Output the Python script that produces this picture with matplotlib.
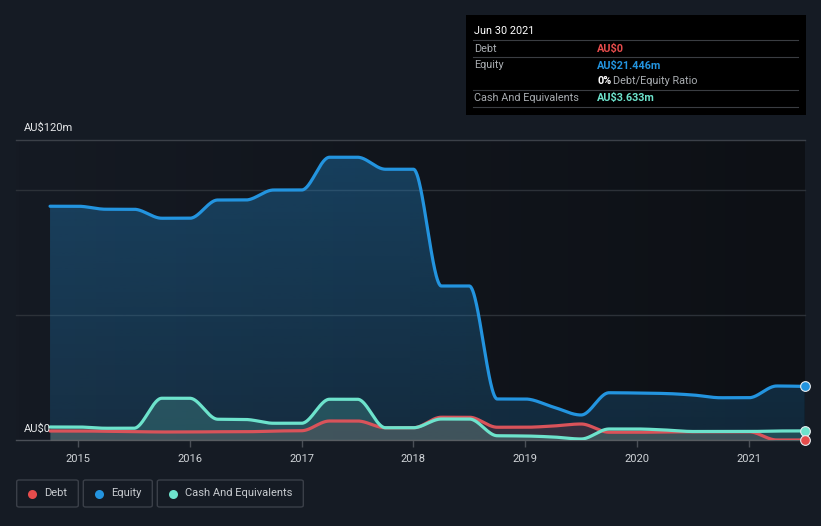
import numpy as np
import matplotlib
matplotlib.use("Agg")
import matplotlib.pyplot as plt
from matplotlib.patches import FancyBboxPatch, Rectangle
from matplotlib.lines import Line2D

plt.rcParams['font.family'] = ['Roboto', 'DejaVu Sans']

# ---- data (AU$ millions, quarterly) ----
dates = [2014.75, 2015.0, 2015.25, 2015.5, 2015.75, 2016.0, 2016.25, 2016.5,
         2016.75, 2017.0, 2017.25, 2017.5, 2017.75, 2018.0, 2018.25, 2018.5,
         2018.75, 2019.0, 2019.25, 2019.5, 2019.75, 2020.0, 2020.25, 2020.5,
         2020.75, 2021.0, 2021.25, 2021.5]
equity = [93.5, 93.5, 92.3, 92.3, 88.7, 88.7, 96.0, 96.0,
          100.0, 100.0, 113.1, 113.1, 108.3, 108.3, 61.6, 61.6,
          16.4, 16.4, 13.2, 10.0, 18.9, 18.8, 18.6, 18.0,
          16.9, 16.9, 21.6, 21.446]
cash = [5.2, 5.2, 4.7, 4.7, 16.7, 16.7, 8.3, 8.2,
        6.7, 6.7, 16.3, 16.3, 4.9, 4.9, 8.4, 8.4,
        1.7, 1.6, 1.2, 0.4, 4.4, 4.4, 4.0, 3.4,
        3.4, 3.4, 3.6, 3.633]
debt = [3.6, 3.6, 3.5, 3.4, 3.2, 3.2, 3.3, 3.3,
        3.6, 3.7, 7.6, 7.6, 4.9, 4.9, 9.1, 9.1,
        5.1, 5.1, 5.6, 6.4, 3.1, 3.1, 3.2, 3.3,
        3.3, 3.3, 0.0, 0.0]
year_ticks = [2015, 2016, 2017, 2018, 2019, 2020, 2021]
y_labels = {0: "AU$0", 120: "AU$120m"}

C_DEBT = '#e64c4c'
C_EQ = '#2394df'
C_CASH = '#6de3cc'
BG = '#151b24'

W, H = 821, 526


def pchip(x, y, xs):
    x = np.asarray(x, float); y = np.asarray(y, float)
    h = np.diff(x); d = np.diff(y) / h
    n = len(x); m = np.zeros(n)
    for k in range(1, n - 1):
        if d[k - 1] * d[k] > 0:
            w1 = 2 * h[k] + h[k - 1]; w2 = h[k] + 2 * h[k - 1]
            m[k] = (w1 + w2) / (w1 / d[k - 1] + w2 / d[k])
    m[0] = d[0]; m[-1] = d[-1]
    idx = np.clip(np.searchsorted(x, xs) - 1, 0, n - 2)
    t = (xs - x[idx]) / h[idx]
    h00 = 2 * t**3 - 3 * t**2 + 1; h10 = t**3 - 2 * t**2 + t
    h01 = -2 * t**3 + 3 * t**2; h11 = t**3 - t**2
    return h00 * y[idx] + h10 * h[idx] * m[idx] + h01 * y[idx + 1] + h11 * h[idx] * m[idx + 1]


fig = plt.figure(figsize=(W / 100, H / 100), dpi=100)
fig.patch.set_facecolor(BG)

ax_l, ax_r, ax_t, ax_b = 16, 805, 140, 440
ax = fig.add_axes([ax_l / W, 1 - ax_b / H, (ax_r - ax_l) / W, (ax_b - ax_t) / H])
ppy = 111.8
x0 = 2015 - (78 - ax_l) / ppy
x1 = 2015 + (ax_r - 78) / ppy
ax.set_xlim(x0, x1)
ax.set_ylim(0, 120)
ax.set_facecolor('none')
for s in ['top', 'right', 'left']:
    ax.spines[s].set_visible(False)
ax.spines['bottom'].set_color('#4a4f57')
ax.spines['bottom'].set_linewidth(1)

# background gradient of plot area
grad = np.linspace(0, 1, 256)[None, :]
c0 = np.array([21, 26, 35]) / 255; c1 = np.array([13, 16, 21]) / 255
img = c0[None, None, :] * (1 - grad[..., None]) + c1[None, None, :] * grad[..., None]
ax.imshow(img, extent=[x0, x1, 0, 120], aspect='auto', zorder=0)

for yv, col in [(120, '#3b4048'), (100, '#2c3138'), (50, '#2c3138')]:
    ax.axhline(yv, color=col, lw=1, zorder=1, clip_on=False)

xs = np.linspace(dates[0], dates[-1], 1500)
eq_s = pchip(dates, equity, xs)
ca_s = pchip(dates, cash, xs)
de_s = pchip(dates, debt, xs)

# equity fill with vertical gradient
poly = ax.fill_between(xs, eq_s, 0, color='none', lw=0, zorder=2)
gv = np.linspace(0, 1, 256)[:, None]
rgba = np.zeros((256, 1, 4))
rgba[..., 0] = 35 / 255; rgba[..., 1] = 148 / 255; rgba[..., 2] = 223 / 255
rgba[..., 3] = (0.34 - 0.16 * gv)
gimg = ax.imshow(rgba, extent=[x0, x1, 0, 120], aspect='auto', zorder=2, origin='upper')
gimg.set_clip_path(poly.get_paths()[0], transform=ax.transData)

ax.fill_between(xs, de_s, 0, color=C_DEBT, alpha=0.16, lw=0, zorder=3)
ax.fill_between(xs, ca_s, 0, color=C_CASH, alpha=0.2, lw=0, zorder=3)

ax.plot(xs, eq_s, color=C_EQ, lw=2.3, zorder=5, solid_capstyle='round')
ax.plot(xs, de_s, color='#d9535a', lw=2.3, zorder=5, solid_capstyle='round')
ax.plot(xs, ca_s, color=C_CASH, lw=2.3, zorder=6, solid_capstyle='round')

for val, col in [(equity[-1], C_EQ), (cash[-1], C_CASH), (debt[-1], C_DEBT)]:
    ax.plot([dates[-1]], [val], 'o', ms=7, color=col, mec='#e8ecef', mew=0.8,
            zorder=8, clip_on=False)

ax.set_yticks([])
ax.set_xticks(year_ticks)
ax.set_xticklabels([str(y) for y in year_ticks])
ax.tick_params(axis='x', colors='#4a4f57', length=5, width=1, labelcolor='#d0d4d8',
               labelsize=8, pad=5)

# y labels
fig.text(24 / W, 1 - 128 / H, y_labels[120], color='#e6e8ea', fontsize=8, va='center', ha='left')
fig.text(24 / W, 1 - 428.5 / H, y_labels[0], color='#e6e8ea', fontsize=8, va='center', ha='left')

# tooltip box
fig.patches.append(Rectangle((466 / W, 1 - 115 / H), 340 / W, 100 / H, transform=fig.transFigure,
                             facecolor='#000000', edgecolor='none', zorder=10))
for yy in [40, 57, 90, 107]:
    fig.lines.append(Line2D([473 / W, 798 / W], [1 - yy / H, 1 - yy / H], transform=fig.transFigure,
                            color='#3a3d42', lw=0.8, zorder=11))
fs = 7.8
fig.text(474 / W, 1 - 31 / H, "Jun 30 2021", color='#ffffff', fontsize=fs, va='center', zorder=12)
fig.text(474 / W, 1 - 48.5 / H, "Debt", color='#a8acb0', fontsize=fs, va='center', zorder=12)
fig.text(597 / W, 1 - 48.5 / H, "AU$0", color=C_DEBT, fontsize=fs, va='center', weight='bold', zorder=12)
fig.text(474 / W, 1 - 65.5 / H, "Equity", color='#a8acb0', fontsize=fs, va='center', zorder=12)
fig.text(597 / W, 1 - 65.5 / H, "AU$21.446m", color=C_EQ, fontsize=fs, va='center', weight='bold', zorder=12)
t0 = fig.text(597 / W, 1 - 81.5 / H, "0%", color='#ffffff', fontsize=fs, va='center', weight='bold', zorder=12)
fig.text(613 / W, 1 - 81.5 / H, "Debt/Equity Ratio", color='#a8acb0', fontsize=fs, va='center', zorder=12)
fig.text(474 / W, 1 - 98 / H, "Cash And Equivalents", color='#a8acb0', fontsize=fs, va='center', zorder=12)
fig.text(597 / W, 1 - 98 / H, "AU$3.633m", color=C_CASH, fontsize=fs, va='center', weight='bold', zorder=12)

# legend
legend_items = [("Debt", C_DEBT, 16.7, 78.3, 31.7, 44),
                ("Equity", C_EQ, 83.3, 152.3, 99, 111),
                ("Cash And Equivalents", C_CASH, 157.3, 303.3, 172.7, 185)]
for name, col, bx0, bx1, dx, tx in legend_items:
    fig.patches.append(FancyBboxPatch((bx0 / W, 1 - 507 / H), (bx1 - bx0) / W, 27 / H,
                                      boxstyle='round,pad=0,rounding_size=0.003',
                                      transform=fig.transFigure, facecolor='none',
                                      edgecolor='#3a3f48', lw=1, zorder=10))
    fig.lines.append(Line2D([dx / W], [1 - 493.5 / H], marker='o', ms=6.5, color=col, mew=0,
                            transform=fig.transFigure, zorder=11))
    fig.text(tx / W, 1 - 493.5 / H, name, color='#c8ccd0', fontsize=8, va='center', zorder=11)

fig.savefig('out.png', dpi=100, facecolor=BG)
